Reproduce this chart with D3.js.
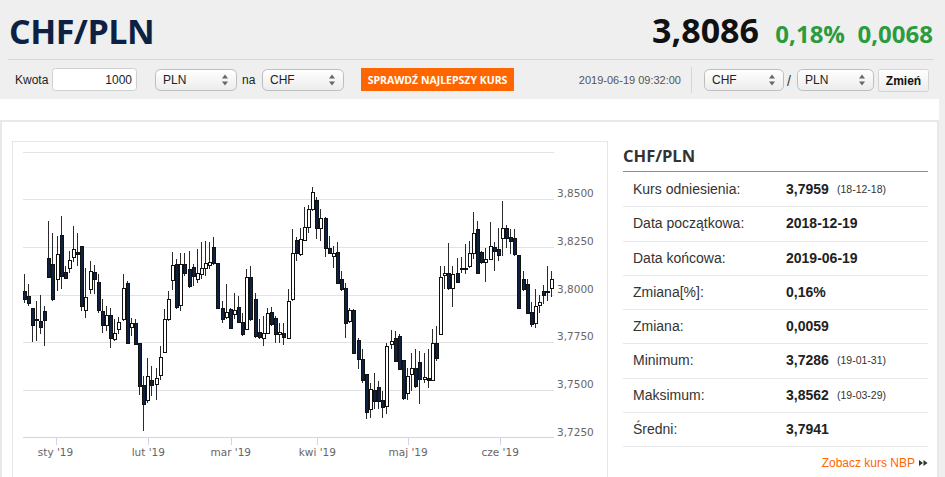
<!DOCTYPE html>
<html>
<head>
<meta charset="utf-8">
<script src="https://cdn.jsdelivr.net/npm/d3@7"></script>
<style>
  body { margin: 0; background: #fff; }
  svg { display: block; font-family: "Liberation Sans", Arial, sans-serif; }
</style>
</head>
<body>
<svg id="page" width="945" height="477"></svg>
<script>
// notowania CHF/PLN, sesje 2018-12-19 .. 2019-06-19
var dates = [
  "2018-12-19","2018-12-20","2018-12-21","2018-12-24","2018-12-26","2018-12-27","2018-12-28","2018-12-31",
  "2019-01-02","2019-01-03","2019-01-04","2019-01-07","2019-01-08","2019-01-09","2019-01-10","2019-01-11",
  "2019-01-14","2019-01-15","2019-01-16","2019-01-17","2019-01-18","2019-01-21","2019-01-22","2019-01-23",
  "2019-01-24","2019-01-25","2019-01-28","2019-01-29","2019-01-30","2019-01-31",
  "2019-02-01","2019-02-04","2019-02-05","2019-02-06","2019-02-07","2019-02-08","2019-02-11","2019-02-12",
  "2019-02-13","2019-02-14","2019-02-15","2019-02-18","2019-02-19","2019-02-20","2019-02-21","2019-02-22",
  "2019-02-25","2019-02-26","2019-02-27","2019-02-28",
  "2019-03-01","2019-03-04","2019-03-05","2019-03-06","2019-03-07","2019-03-08","2019-03-11","2019-03-12",
  "2019-03-13","2019-03-14","2019-03-15","2019-03-18","2019-03-19","2019-03-20","2019-03-21","2019-03-22",
  "2019-03-25","2019-03-26","2019-03-27","2019-03-28","2019-03-29",
  "2019-04-01","2019-04-02","2019-04-03","2019-04-04","2019-04-05","2019-04-08","2019-04-09","2019-04-10",
  "2019-04-11","2019-04-12","2019-04-15","2019-04-16","2019-04-17","2019-04-18","2019-04-19","2019-04-22",
  "2019-04-23","2019-04-24","2019-04-25","2019-04-26","2019-04-29","2019-04-30",
  "2019-05-01","2019-05-02","2019-05-03","2019-05-06","2019-05-07","2019-05-08","2019-05-09","2019-05-10",
  "2019-05-13","2019-05-14","2019-05-15","2019-05-16","2019-05-17","2019-05-20","2019-05-21","2019-05-22",
  "2019-05-23","2019-05-24","2019-05-27","2019-05-28","2019-05-29","2019-05-30","2019-05-31",
  "2019-06-03","2019-06-04","2019-06-05","2019-06-06","2019-06-07","2019-06-10","2019-06-11","2019-06-12",
  "2019-06-13","2019-06-14","2019-06-17","2019-06-18","2019-06-19"
];

var open = [3.8019,3.7993,3.7928,3.7865,3.7861,3.7916,3.8194,3.8159,3.8083,3.8313,
  3.8120,3.8138,3.8199,3.8225,3.8253,3.7917,3.8028,3.8120,3.8068,3.7914,
  3.7840,3.7893,3.7768,3.7817,3.7874,3.8062,3.7832,3.7849,3.7747,3.7525,
  3.7449,3.7550,3.7533,3.7576,3.7698,3.7874,3.8075,3.8162,3.7945,3.8162,
  3.8133,3.8145,3.8080,3.8106,3.8138,3.8155,3.8251,3.8164,3.7931,3.7884,
  3.7926,3.7896,3.7935,3.7857,3.7817,3.8094,3.7975,3.7805,3.7774,3.7800,
  3.7909,3.7879,3.7795,3.7800,3.7774,3.7975,3.8285,3.8215,3.8286,3.8356,
  3.8447,3.8495,3.8351,3.8400,3.8243,3.8203,3.8225,3.8083,3.8036,3.7861,
  3.7917,3.7761,3.7660,3.7581,3.7397,3.7498,3.7514,3.7449,3.7414,3.7739,
  3.7774,3.7783,3.7656,3.7485,3.7581,3.7616,3.7647,3.7558,3.7562,3.7554,
  3.7747,3.7791,3.8103,3.8115,3.8036,3.8112,3.8134,3.8141,3.8150,3.8220,
  3.8343,3.8225,3.8171,3.8185,3.8249,3.8238,3.8294,3.8348,3.8299,3.8297,
  3.8206,3.8083,3.8054,3.7909,3.7852,3.7947,3.8019,3.8013,3.8036];

var high = [3.8106,3.8054,3.7928,3.7966,3.7998,3.7940,3.8386,3.8325,3.8308,3.8413,
  3.8150,3.8229,3.8360,3.8322,3.8253,3.8141,3.8176,3.8155,3.8106,3.7975,
  3.7940,3.7931,3.7870,3.7884,3.8110,3.8070,3.7879,3.7870,3.7747,3.7572,
  3.7669,3.7625,3.7616,3.7730,3.7923,3.8019,3.8225,3.8185,3.8220,3.8220,
  3.8229,3.8159,3.8238,3.8273,3.8282,3.8276,3.8299,3.8164,3.7966,3.8057,
  3.7931,3.8010,3.7993,3.7905,3.8133,3.8150,3.8006,3.7870,3.7887,3.7931,
  3.7935,3.7887,3.7849,3.7849,3.8028,3.8343,3.8304,3.8351,3.8461,3.8468,
  3.8562,3.8509,3.8447,3.8409,3.8308,3.8255,3.8276,3.8124,3.8059,3.7931,
  3.7926,3.7774,3.7712,3.7581,3.7537,3.7590,3.7546,3.7493,3.7747,3.7814,
  3.7809,3.7791,3.7656,3.7616,3.7695,3.7712,3.7703,3.7695,3.7712,3.7817,
  3.7835,3.8150,3.8150,3.8269,3.8150,3.8194,3.8199,3.8264,3.8281,3.8433,
  3.8386,3.8229,3.8246,3.8381,3.8273,3.8351,3.8491,3.8364,3.8343,3.8346,
  3.8206,3.8124,3.8083,3.7961,3.8028,3.7996,3.8050,3.8150,3.8124];

var low = [3.7958,3.7940,3.7753,3.7756,3.7791,3.7730,3.8089,3.7966,3.8019,3.8028,
  3.8083,3.8115,3.8168,3.8150,3.7914,3.7879,3.8001,3.8001,3.7905,3.7800,
  3.7809,3.7721,3.7756,3.7791,3.7861,3.7740,3.7783,3.7733,3.7475,3.7286,
  3.7431,3.7467,3.7449,3.7554,3.7695,3.7861,3.8024,3.7923,3.7914,3.8098,
  3.8036,3.8045,3.8062,3.8080,3.8098,3.8133,3.8155,3.7923,3.7852,3.7870,
  3.7821,3.7870,3.7849,3.7783,3.7814,3.7861,3.7774,3.7765,3.7730,3.7791,
  3.7835,3.7744,3.7747,3.7733,3.7765,3.7966,3.8176,3.8203,3.8281,3.8325,
  3.8439,3.8290,3.8281,3.8199,3.8211,3.8141,3.8059,3.8019,3.7774,3.7852,
  3.7686,3.7607,3.7537,3.7348,3.7353,3.7397,3.7397,3.7353,3.7371,3.7712,
  3.7646,3.7604,3.7446,3.7449,3.7493,3.7511,3.7428,3.7537,3.7511,3.7546,
  3.7651,3.7786,3.8028,3.8024,3.7936,3.8062,3.8112,3.8106,3.8141,3.8185,
  3.8112,3.8159,3.8068,3.8185,3.8124,3.8176,3.8203,3.8246,3.8211,3.8203,
  3.7928,3.8019,3.7896,3.7832,3.7826,3.7905,3.7949,3.7966,3.7986];

var close = [3.7979,3.7958,3.7840,3.7874,3.7832,3.7867,3.8094,3.7975,3.8210,3.8098,
  3.8089,3.8180,3.8238,3.8211,3.7940,3.7987,3.8124,3.8080,3.7919,3.7840,
  3.7893,3.7774,3.7800,3.7856,3.8036,3.7744,3.7849,3.7739,3.7519,3.7428,
  3.7572,3.7525,3.7564,3.7674,3.7870,3.7979,3.8153,3.7935,3.8162,3.8112,
  3.8042,3.8098,3.8115,3.8138,3.8164,3.8168,3.8164,3.7931,3.7874,3.7909,
  3.7826,3.7919,3.7856,3.7795,3.8094,3.7870,3.7783,3.7779,3.7800,3.7901,
  3.7843,3.7795,3.7805,3.7779,3.7966,3.8220,3.8217,3.8290,3.8356,3.8447,
  3.8535,3.8348,3.8400,3.8246,3.8220,3.8220,3.8062,3.8028,3.7852,3.7919,
  3.7695,3.7660,3.7554,3.7383,3.7502,3.7441,3.7441,3.7411,3.7730,3.7756,
  3.7651,3.7611,3.7458,3.7572,3.7616,3.7519,3.7558,3.7569,3.7550,3.7744,
  3.7669,3.8094,3.8112,3.8033,3.8106,3.8068,3.8141,3.8136,3.8220,3.8325,
  3.8115,3.8168,3.8185,3.8255,3.8229,3.8206,3.8348,3.8294,3.8281,3.8211,
  3.7931,3.8028,3.7905,3.7843,3.7940,3.7961,3.7998,3.8019,3.8083];

var yTicks = [3.725, 3.75, 3.775, 3.8, 3.825, 3.85, 3.875];
var monthTicks = ["2019-01-01","2019-02-01","2019-03-01","2019-04-01","2019-05-01","2019-06-01"];
var monthLabels = ["sty '19","lut '19","mar '19","kwi '19","maj '19","cze '19"];

var statLabels = ["Kurs odniesienia:","Data początkowa:","Data końcowa:","Zmiana[%]:","Zmiana:","Minimum:","Maksimum:","Średni:"];
var statValues = ["3,7959","2018-12-19","2019-06-19","0,16%","0,0059","3,7286","3,8562","3,7941"];
var statNotes  = ["(18-12-18)","","","","","(19-01-31)","(19-03-29)",""];

var svg = d3.select("#page");
var plFormat = d3.formatLocale({decimal: ",", thousands: " ", grouping: [3], currency: ["", " zł"]}).format(".4f");
var navy = "#0d2242";

drawHeader();
drawChart();
drawStats();

function drawHeader(){
  var defs = svg.append("defs");
  var g1 = defs.append("linearGradient").attr("id", "sel").attr("x1", 0).attr("y1", 0).attr("x2", 0).attr("y2", 1);
  g1.append("stop").attr("offset", "0%").attr("stop-color", "#ffffff");
  g1.append("stop").attr("offset", "100%").attr("stop-color", "#ececec");

  svg.append("rect").attr("x", 0).attr("y", 0).attr("width", 945).attr("height", 99).attr("fill", "#efefef");
  svg.append("line").attr("x1", 8).attr("x2", 934).attr("y1", 59.5).attr("y2", 59.5).attr("stroke", "#d6d6d6");

  svg.append("text").attr("x", 9).attr("y", 44)
    .style("font-family", "'Open Sans', sans-serif").style("font-weight", 700).style("font-size", "34px")
    .attr("fill", navy).attr("letter-spacing", "-0.5").text("CHF/PLN");

  svg.append("text").attr("x", 759).attr("y", 43).attr("text-anchor", "end")
    .style("font-family", "'Open Sans', sans-serif").style("font-weight", 700).style("font-size", "34px")
    .attr("fill", "#111").text("3,8086");
  svg.append("text").attr("x", 845).attr("y", 43).attr("text-anchor", "end")
    .style("font-family", "'Open Sans', sans-serif").style("font-weight", 700).style("font-size", "24px")
    .attr("fill", "#2b9b3e").text("0,18%");
  svg.append("text").attr("x", 933).attr("y", 43).attr("text-anchor", "end")
    .style("font-family", "'Open Sans', sans-serif").style("font-weight", 700).style("font-size", "24px")
    .attr("fill", "#2b9b3e").text("0,0068");

  // kalkulator
  svg.append("text").attr("x", 15).attr("y", 84).style("font-size", "12px").attr("fill", "#222").text("Kwota");
  svg.append("rect").attr("x", 52.5).attr("y", 68.5).attr("width", 84).attr("height", 22).attr("rx", 3)
    .attr("fill", "#fff").attr("stroke", "#cfcfcf");
  svg.append("text").attr("x", 132).attr("y", 84).attr("text-anchor", "end").style("font-size", "12px").attr("fill", "#222").text("1000");

  selectBox(155, 81, "PLN");
  svg.append("text").attr("x", 242).attr("y", 84).style("font-size", "12px").attr("fill", "#222").text("na");
  selectBox(262, 81, "CHF");

  svg.append("rect").attr("x", 361).attr("y", 68).attr("width", 153).attr("height", 23).attr("fill", "#ff6600");
  svg.append("text").attr("x", 437.5).attr("y", 83.5).attr("text-anchor", "middle")
    .style("font-family", "'Open Sans', sans-serif").style("font-size", "10.5px").style("font-weight", 700)
    .attr("fill", "#fff").text("SPRAWDŹ NAJLEPSZY KURS");

  svg.append("text").attr("x", 681).attr("y", 83.5).attr("text-anchor", "end")
    .style("font-size", "11px").attr("fill", "#555").text("2019-06-19 09:32:00");
  svg.append("line").attr("x1", 691.5).attr("x2", 691.5).attr("y1", 67).attr("y2", 93).attr("stroke", "#d6d6d6");

  selectBox(704, 79, "CHF");
  svg.append("text").attr("x", 787).attr("y", 86).style("font-size", "14px").attr("fill", "#333").text("/");
  selectBox(797, 76, "PLN");

  svg.append("rect").attr("x", 878.5).attr("y", 69.5).attr("width", 50).attr("height", 22).attr("rx", 2)
    .attr("fill", "url(#sel)").attr("stroke", "#d4d4d4");
  svg.append("text").attr("x", 903.5).attr("y", 85).attr("text-anchor", "middle")
    .style("font-size", "12px").style("font-weight", 700).attr("fill", "#111").text("Zmień");
}

function selectBox(x, w, label){
  var g = svg.append("g").attr("transform", "translate(" + x + ",69)");
  g.append("rect").attr("x", 0.5).attr("y", 0.5).attr("width", w).attr("height", 21).attr("rx", 5)
    .attr("fill", "url(#sel)").attr("stroke", "#bdbdbd");
  g.append("text").attr("x", 8).attr("y", 15).style("font-size", "12px").attr("fill", "#222").text(label);
  g.append("path").attr("d", "M" + (w - 14) + ",9.5l3,-4l3,4z M" + (w - 14) + ",12.5l3,4l3,-4z").attr("fill", "#666");
}

function drawChart(){
  // tlo panelu
  svg.append("rect").attr("x", 939).attr("y", 99).attr("width", 6).attr("height", 378).attr("fill", "#efefef");
  svg.append("rect").attr("x", 1).attr("y", 121).attr("width", 937).attr("height", 370)
    .attr("fill", "#fff").attr("stroke", "#e8e8e8").attr("stroke-width", 2);
  svg.append("rect").attr("x", 12.5).attr("y", 141.5).attr("width", 595).attr("height", 350)
    .attr("fill", "#fff").attr("stroke", "#e6e6e6");

  var parsed = dates.map(d3.timeParse("%Y-%m-%d"));
  // os porzadkowa - bez weekendow
  var ordinal = d3.scaleTime().domain(parsed).range(d3.range(dates.length));
  var x = d3.scaleLinear().domain([0, dates.length - 1]).range([24.6, 552.4]);
  var y = d3.scaleLinear().domain([3.725, 3.875]).range([437.5, 151.5]);

  var grid = svg.append("g");
  grid.selectAll("line").data(yTicks.slice(1)).enter().append("line")
    .attr("x1", 23).attr("x2", 554)
    .attr("y1", function(d){ return Math.round(y(d)) + 0.5; })
    .attr("y2", function(d){ return Math.round(y(d)) + 0.5; })
    .attr("stroke", "#e3e3e3");

  grid.selectAll("text").data(yTicks.slice(0, -1)).enter().append("text")
    .attr("x", 557).attr("y", function(d){ return y(d) - 2; })
    .style("font-family", "'DejaVu Sans', sans-serif").style("font-size", "10.5px")
    .attr("fill", "#666").text(function(d){ return plFormat(d); });

  // os X
  var xa = svg.append("g");
  xa.append("line").attr("x1", 23).attr("x2", 554).attr("y1", 437.5).attr("y2", 437.5).attr("stroke", "#ccd6eb");
  var tickX = monthTicks.map(function(d){ return x(ordinal(d3.timeParse("%Y-%m-%d")(d))); });
  xa.selectAll("line.tick").data(tickX).enter().append("line").attr("class", "tick")
    .attr("x1", function(d){ return Math.round(d) + 0.5; })
    .attr("x2", function(d){ return Math.round(d) + 0.5; })
    .attr("y1", 437.5).attr("y2", 445).attr("stroke", "#ccd6eb");
  xa.selectAll("text").data(tickX).enter().append("text")
    .attr("x", function(d){ return d; }).attr("y", 456).attr("text-anchor", "middle")
    .style("font-family", "'DejaVu Sans', sans-serif").style("font-size", "10.5px")
    .attr("fill", "#666").text(function(d, i){ return monthLabels[i]; });

  // swiece
  var candles = svg.append("g").selectAll("g").data(dates).enter().append("g");
  candles.append("line")
    .attr("x1", function(d, i){ return Math.round(x(i)) - 0.5; })
    .attr("x2", function(d, i){ return Math.round(x(i)) - 0.5; })
    .attr("y1", function(d, i){ return Math.round(y(high[i])); })
    .attr("y2", function(d, i){ return Math.round(y(low[i])); })
    .attr("stroke", "#2a2a2a");
  candles.append("rect")
    .attr("x", function(d, i){ return Math.round(x(i)) - 1.5; })
    .attr("width", 3)
    .attr("y", function(d, i){ return Math.round(y(Math.max(open[i], close[i]))) + 0.5; })
    .attr("height", function(d, i){
      return Math.max(1, Math.round(y(Math.min(open[i], close[i]))) - Math.round(y(Math.max(open[i], close[i]))));
    })
    .attr("fill", function(d, i){ return close[i] < open[i] ? navy : "#fff"; })
    .attr("stroke", "#111");
}

function drawStats(){
  var g = svg.append("g");
  g.append("text").attr("x", 623).attr("y", 162)
    .style("font-family", "'Open Sans', sans-serif").style("font-weight", 700).style("font-size", "16.5px")
    .attr("fill", "#333").text("CHF/PLN");
  g.append("line").attr("x1", 623).attr("x2", 928).attr("y1", 171.5).attr("y2", 171.5).attr("stroke", "#8c8c8c");

  var row = d3.scaleLinear().domain([0, statLabels.length]).range([172, 446]);
  var rows = g.selectAll("g.row").data(statLabels).enter().append("g").attr("class", "row");
  rows.append("line").attr("x1", 623).attr("x2", 928)
    .attr("y1", function(d, i){ return Math.round(row(i + 1)) + 0.5; })
    .attr("y2", function(d, i){ return Math.round(row(i + 1)) + 0.5; })
    .attr("stroke", "#e8e8e8");
  rows.append("text").attr("x", 633).attr("y", function(d, i){ return row(i + 0.5) + 5; })
    .style("font-size", "14px").attr("fill", "#333").text(function(d){ return d; });
  rows.append("text").attr("x", 786).attr("y", function(d, i){ return row(i + 0.5) + 5; })
    .style("font-size", "14px").style("font-weight", 700).attr("fill", "#222").text(function(d, i){ return statValues[i]; });
  rows.append("text").attr("x", 837).attr("y", function(d, i){ return row(i + 0.5) + 4; })
    .style("font-size", "10.5px").attr("fill", "#333").text(function(d, i){ return statNotes[i]; });

  g.append("text").attr("x", 915).attr("y", 467).attr("text-anchor", "end")
    .style("font-size", "12px").attr("fill", "#ff6600").text("Zobacz kurs NBP");
  g.append("path").attr("d", "M919,460l4,3l-4,3z M923.5,460l4,3l-4,3z").attr("fill", "#333");
}
</script>
</body>
</html>
